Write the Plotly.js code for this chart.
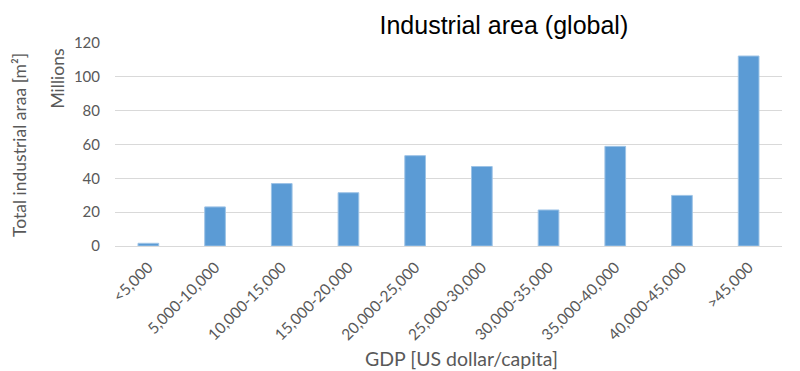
<!DOCTYPE html>
<html>
<head>
<meta charset="utf-8">
<script src="https://cdn.plot.ly/plotly-3.0.1.min.js"></script>
<style>html,body{margin:0;padding:0;background:#fff;}#chart{width:800px;height:371px;}</style>
</head>
<body>
<div id="chart"></div>
<script>
var categories = ["<5,000","5,000-10,000","10,000-15,000","15,000-20,000","20,000-25,000","25,000-30,000","30,000-35,000","35,000-40,000","40,000-45,000",">45,000"];
var areaMillions = [1.6, 23.1, 36.9, 31.5, 53.4, 47.0, 21.3, 58.9, 29.9, 112.3];
var yTicks = [0, 20, 40, 60, 80, 100, 120];

var trace = {
  type: 'bar',
  x: categories,
  y: areaMillions,
  marker: {color: '#5B9BD5', line: {color: '#9DC3E6', width: 1}},
  hoverinfo: 'x+y'
};

var fam = 'Lato, "Open Sans", sans-serif';
var tickFont = {family: fam, size: 15, color: '#595959'};
var xTickFont = {family: fam, size: 15.5, color: '#595959'};
var axTitleFont = {family: fam, size: 17.5, color: '#595959'};
var xTitleFont = {family: fam, size: 19.5, color: '#595959'};

var layout = {
  width: 800, height: 371,
  margin: {l: 115, r: 18, t: 43, b: 125},
  paper_bgcolor: '#fff', plot_bgcolor: '#fff',
  bargap: 0.69,
  showlegend: false,
  title: {text: 'Industrial area (global)', font: {family: '"Liberation Sans", Arial, sans-serif', size: 25, color: '#000'}, x: 0.583, xref: 'paper', xanchor: 'center', y: 0.933, yref: 'container', yanchor: 'middle'},
  xaxis: {
    type: 'category',
    tickangle: -45,
    tickfont: xTickFont,
    showgrid: false,
    showline: true, linecolor: '#D9D9D9', linewidth: 1.3,
    ticks: '',
    ticklabelstandoff: 5,
    title: {text: ''}
  },
  yaxis: {
    range: [0, 120],
    tickvals: yTicks,
    tickfont: tickFont,
    showgrid: true, gridcolor: '#D9D9D9', gridwidth: 1.3,
    zeroline: false, showline: false,
    ticks: '',
    ticklabelstandoff: 14,
    title: {text: ''}
  },
  annotations: [
    {text: 'Total industrial araa [m²]', xref: 'paper', yref: 'paper', x: -0.144, y: 0.4975, xanchor: 'center', yanchor: 'middle', textangle: -90, showarrow: false, font: axTitleFont},
    {text: 'Millions', xref: 'paper', yref: 'paper', x: -0.0855, y: 0.825, xanchor: 'center', yanchor: 'middle', textangle: -90, showarrow: false, font: axTitleFont},
    {text: 'GDP [US dollar/capita]', xref: 'paper', yref: 'paper', x: 0.52, y: -0.552, xanchor: 'center', yanchor: 'middle', showarrow: false, font: xTitleFont}
  ]
};

Plotly.newPlot('chart', [trace], layout, {displayModeBar: false, staticPlot: true});
</script>
</body>
</html>
